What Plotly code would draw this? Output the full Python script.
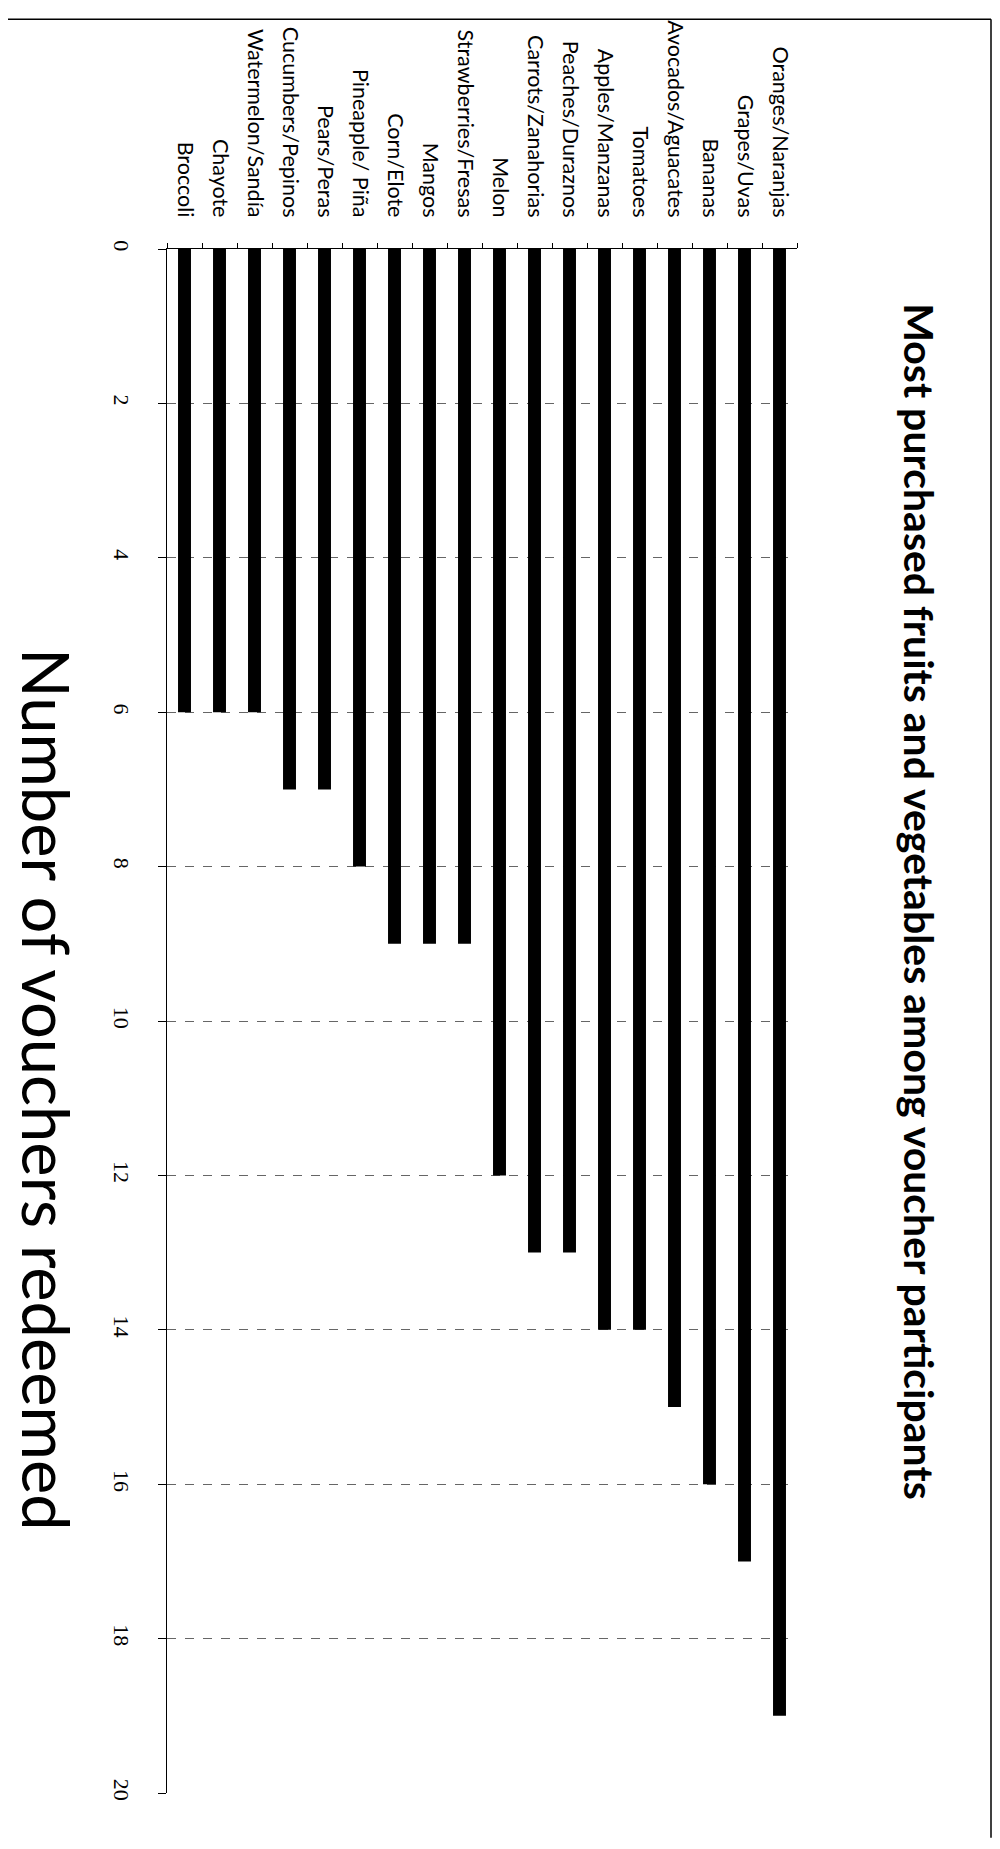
import plotly.graph_objects as go

# Categories listed from left (bottom of original) to right (top of original)
categories = [
    "Broccoli", "Chayote", "Watermelon/Sandía", "Cucumbers/Pepinos", "Pears/Peras",
    "Pineapple/ Piña", "Corn/Elote", "Mangos", "Strawberries/Fresas", "Melon",
    "Carrots/Zanahorias", "Peaches/Duraznos", "Apples/Manzanas", "Tomatoes",
    "Avocados/Aguacates", "Bananas", "Grapes/Uvas", "Oranges/Naranjas",
]
vouchers = [6, 6, 6, 7, 7, 8, 9, 9, 9, 12, 13, 13, 14, 14, 15, 16, 17, 19]
value_ticks = [0, 2, 4, 6, 8, 10, 12, 14, 16, 18, 20]

title_text = "Most purchased fruits and vegetables among voucher participants"
axis_title_text = "Number of vouchers redeemed"

OFF = 8  # page body margin offset
W, H = 1000 - 2 * OFF, 1849 - 2 * OFF - 3
L, R, T, B = 167 - OFF, 797 - OFF, 240 - OFF, 1793 - OFF  # plot area pixel bounds (figure coords)


def px(x):
    # screen pixel x -> paper x
    return (x - OFF - L) / (R - L)


def py(y):
    # screen pixel y -> paper y
    return (B - (y - OFF)) / (B - T)


fig = go.Figure(
    go.Bar(
        x=categories,
        y=vouchers,
        marker=dict(color="black", line=dict(width=0)),
    )
)

fig.update_layout(
    width=W,
    height=H,
    margin=dict(l=L, r=W - R, t=T, b=H - B, pad=0),
    paper_bgcolor="white",
    plot_bgcolor="white",
    bargap=0.63,
    showlegend=False,
    xaxis=dict(
        side="top",
        type="category",
        categoryorder="array",
        categoryarray=categories,
        tickangle=90,
        tickfont=dict(family="Lato", size=21.5, color="black"),
        ticks="outside",
        tickson="boundaries",
        ticklen=5,
        tickcolor="black",
        showline=True,
        linecolor="black",
        linewidth=1,
        showgrid=False,
        ticklabelstandoff=23,
    ),
    yaxis=dict(
        range=[20, 0],
        tickvals=value_ticks,
        tickangle=90,
        tickfont=dict(family="Liberation Serif", size=22, color="black"),
        ticks="outside",
        ticklen=8,
        tickcolor="black",
        showline=True,
        linecolor="black",
        linewidth=1,
        showgrid=True,
        gridcolor="#666666",
        griddash="dash",
        gridwidth=1,
        zeroline=False,
        ticklabelstandoff=18,
    ),
    annotations=[
        dict(
            text=f"<b>{title_text}</b>",
            x=px(920), y=py(896), xref="paper", yref="paper",
            textangle=90, showarrow=False,
            font=dict(family="Lato", size=41, color="black"),
            xanchor="center", yanchor="middle",
        ),
        dict(
            text=axis_title_text,
            x=px(47), y=py(1085), xref="paper", yref="paper",
            textangle=90, showarrow=False,
            font=dict(family="Lato", size=65, color="black"),
            xanchor="center", yanchor="middle",
        ),
    ],
    shapes=[
        dict(type="line", xref="paper", yref="paper",
             x0=px(OFF), x1=px(OFF + W - 1), y0=py(OFF + 1), y1=py(OFF + 1),
             line=dict(color="black", width=1.5)),
        dict(type="line", xref="paper", yref="paper",
             x0=px(OFF + W - 1), x1=px(OFF + W - 1), y0=py(OFF + 1), y1=py(OFF + H),
             line=dict(color="black", width=1.5)),
    ],
)

fig.write_html("out.html")
